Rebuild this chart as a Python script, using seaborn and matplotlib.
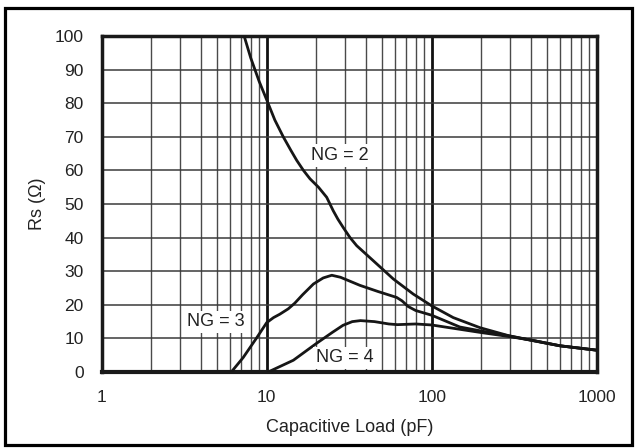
import numpy as np
import pandas as pd
import seaborn as sns
import matplotlib.pyplot as plt
from matplotlib.patches import Rectangle

# Rs vs capacitive load
ng2_load = [7.3, 8, 9, 10, 11.2, 12.6, 14, 15.2, 16.7, 18.3, 20.6, 23.1, 25.3, 27, 29.1, 32, 35.1, 44.3, 58.5, 77.3, 100, 135, 196, 298, 394, 599, 1000]
ng2_rs = [100, 93.5, 86.5, 81, 75, 70, 66, 63, 60, 57.5, 55, 52, 48, 45.5, 43, 40, 37.6, 33.1, 27.7, 23.2, 19.7, 16.2, 13.2, 10.7, 9.5, 7.8, 6.5]

ng3_load = [6.1, 7.2, 8.7, 10, 11, 12, 13.5, 14.8, 16.5, 19.2, 22, 24.8, 28, 36.7, 47, 61.3, 66, 72, 80, 100, 148, 200, 300, 400, 600, 1000]
ng3_rs = [0, 4.3, 10.2, 14.7, 16.2, 17.2, 18.8, 20.5, 23, 26.2, 28, 28.8, 28.2, 25.8, 24.0, 22.2, 21.2, 19.5, 18.3, 16.9, 13.4, 12.2, 10.7, 9.5, 7.8, 6.5]

ng4_load = [10.2, 14.5, 20, 25, 29, 33, 37, 45, 55, 62, 80, 100, 196, 300, 400, 600, 1000]
ng4_rs = [0, 3.5, 8.5, 11.8, 13.9, 15.0, 15.3, 15.0, 14.3, 14.1, 14.3, 14.0, 11.8, 10.5, 9.5, 7.8, 6.5]

curve_names = ["NG = 2", "NG = 3", "NG = 4"]

df = pd.concat([
    pd.DataFrame({"load": ng2_load, "rs": ng2_rs, "ng": curve_names[0]}),
    pd.DataFrame({"load": ng3_load, "rs": ng3_rs, "ng": curve_names[1]}),
    pd.DataFrame({"load": ng4_load, "rs": ng4_rs, "ng": curve_names[2]}),
])

sns.set_theme(style="white")
plt.rcParams["font.family"] = ["Liberation Sans", "DejaVu Sans"]

fig = plt.figure(figsize=(6.38, 4.48), dpi=100)
ax = fig.add_axes([0.1594, 0.1696, 0.7759, 0.75])

ax.set_xscale("log")
ax.set_xlim(1, 1000)
ax.set_ylim(0, 100)

# grid: minor verticals, thick decade verticals, horizontals every 10
minor = [m * d for d in (1, 10, 100) for m in range(2, 10)]
for v in minor:
    ax.axvline(v, color="#4a4a4a", lw=1.0, zorder=1)
for v in (10, 100):
    ax.axvline(v, color="#111111", lw=2.0, zorder=1)
for h in range(10, 100, 10):
    ax.axhline(h, color="#3a3a3a", lw=1.1, zorder=1)

sns.lineplot(data=df, x="load", y="rs", hue="ng", palette=["#161616"] * 3,
             sort=False, estimator=None, legend=False, lw=2.0, ax=ax, zorder=3,
             solid_joinstyle="round", solid_capstyle="round")

ax.set_xticks([1, 10, 100, 1000])
ax.set_xticklabels(["1", "10", "100", "1000"])
ax.xaxis.set_minor_locator(plt.NullLocator())
ax.set_yticks(range(0, 101, 10))
ax.tick_params(length=0, pad=13, labelsize=12.5, colors="#222222")

for s in ax.spines.values():
    s.set_linewidth(2.5)
    s.set_color("#1a1a1a")
ax.spines["bottom"].set_linewidth(3)

ax.set_xlabel("Capacitive Load (pF)", fontsize=13, color="#222222", labelpad=10)
ax.set_ylabel("Rs (Ω)", fontsize=13, color="#222222", labelpad=6)

box = dict(facecolor="white", edgecolor="none", pad=2.0)
ax.text(27.8, 64.5, curve_names[0], ha="center", va="center", fontsize=13, color="#222222", bbox=box, zorder=4)
ax.text(4.94, 14.9, curve_names[1], ha="center", va="center", fontsize=13, color="#222222", bbox=box, zorder=4)
ax.text(29.8, 4.2, curve_names[2], ha="center", va="center", fontsize=13, color="#222222", bbox=box, zorder=4)

# outer frame around the whole figure
fig.patches.append(Rectangle((0.0086, 0.0067), 0.982, 0.9754, transform=fig.transFigure,
                             fill=False, edgecolor="black", lw=2.3))

fig.savefig("out.png", dpi=100)
